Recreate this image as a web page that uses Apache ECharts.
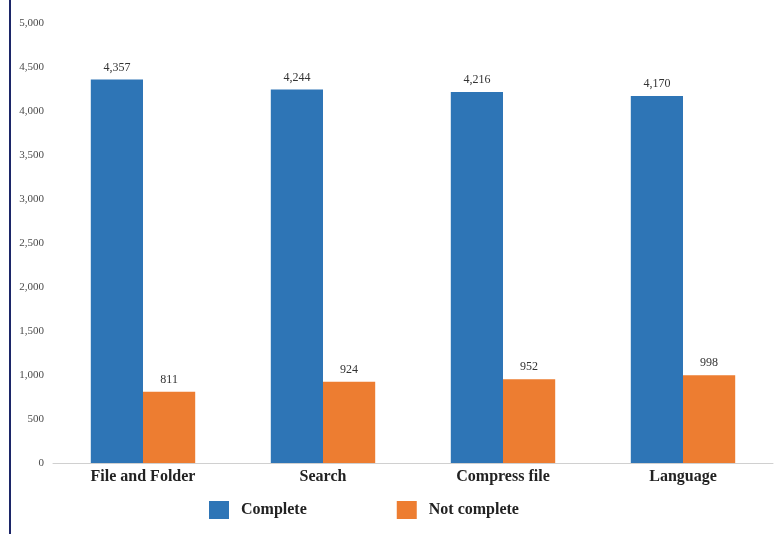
<!DOCTYPE html>
<html>
<head>
<meta charset="utf-8">
<script src="https://cdn.jsdelivr.net/npm/echarts@6/dist/echarts.min.js"></script>
<style>
  html, body { margin: 0; padding: 0; background: #fff; }
  #chart { width: 780px; height: 534px; }
</style>
</head>
<body>
<div id="chart"></div>
<script>
// Feature completion counts per task
const categories = ['File and Folder', 'Search', 'Compress file', 'Language'];
const completeValues = [4357, 4244, 4216, 4170];
const notCompleteValues = [811, 924, 952, 998];
const seriesNames = ['Complete', 'Not complete'];

const serif = '"Liberation Serif", "Times New Roman", serif';
const fmt = v => v.toLocaleString('en-US');

const chart = echarts.init(document.getElementById('chart'));

const labelStyle = {
  show: true,
  position: 'top',
  distance: 6,
  fontFamily: serif,
  fontSize: 12,
  color: '#333',
  formatter: p => fmt(p.value)
};

chart.setOption({
  animation: false,
  backgroundColor: '#fff',
  grid: { left: 53, right: 7, top: 23, bottom: 71 },
  graphic: [{
    type: 'rect',
    shape: { x: 9, y: 0, width: 2, height: 534 },
    style: { fill: '#1c2668' },
    silent: true
  }],
  legend: {
    data: seriesNames,
    left: 204,
    top: 496,
    itemWidth: 20,
    itemHeight: 18,
    itemGap: 90,
    icon: 'rect',
    textStyle: { fontFamily: serif, fontSize: 16, fontWeight: 'bold', color: '#222', padding: [4, 0, 0, 7] }
  },
  xAxis: {
    type: 'category',
    data: categories,
    axisLine: { show: true, lineStyle: { color: '#d0d0d0', width: 1 } },
    axisTick: { show: false },
    axisLabel: { fontFamily: serif, fontSize: 16, fontWeight: 'bold', color: '#222', margin: 6 }
  },
  yAxis: {
    type: 'value',
    min: 0,
    max: 5000,
    interval: 500,
    axisLine: { show: false },
    axisTick: { show: false },
    splitLine: { show: false },
    axisLabel: { fontFamily: serif, fontSize: 11, color: '#4a4a4a', margin: 9, formatter: v => fmt(v) }
  },
  series: [
    {
      name: seriesNames[0],
      type: 'bar',
      data: completeValues,
      barGap: '0%',
      barCategoryGap: '42%',
      itemStyle: { color: '#2E75B6' },
      label: labelStyle
    },
    {
      name: seriesNames[1],
      type: 'bar',
      data: notCompleteValues,
      itemStyle: { color: '#ED7D31' },
      label: labelStyle
    }
  ]
});
</script>
</body>
</html>
